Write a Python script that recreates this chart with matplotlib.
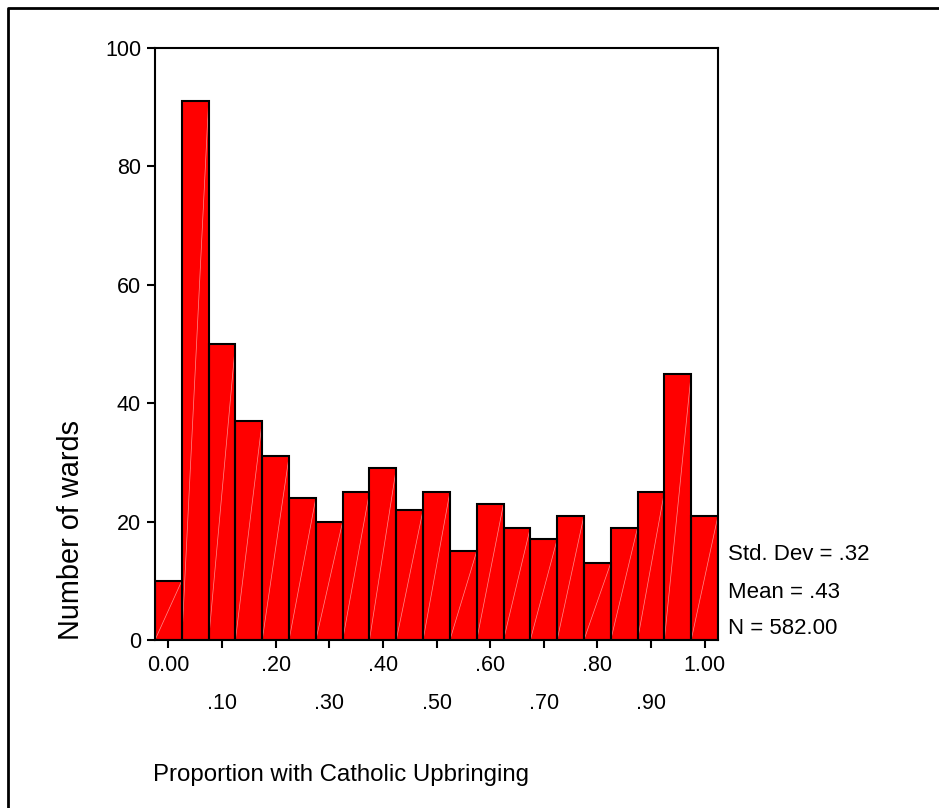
import numpy as np
import matplotlib.pyplot as plt
from matplotlib.lines import Line2D

plt.rcParams['font.family'] = ['Liberation Sans', 'DejaVu Sans']

# Dane histogramu (przedziały o szerokości 0.05)
bin_centers = [0.00, 0.05, 0.10, 0.15, 0.20, 0.25, 0.30, 0.35, 0.40, 0.45, 0.50,
               0.55, 0.60, 0.65, 0.70, 0.75, 0.80, 0.85, 0.90, 0.95, 1.00]
counts = [10, 91, 50, 37, 31, 24, 20, 25, 29, 22, 25,
          15, 23, 19, 17, 21, 13, 19, 25, 45, 21]
bin_width = 0.05

major_ticks = [0.0, 0.2, 0.4, 0.6, 0.8, 1.0]
major_labels = ['0.00', '.20', '.40', '.60', '.80', '1.00']
minor_ticks = [0.1, 0.3, 0.5, 0.7, 0.9]
minor_labels = ['.10', '.30', '.50', '.70', '.90']
y_ticks = [0, 20, 40, 60, 80, 100]

stats = ['Std. Dev = .32', 'Mean = .43', 'N = 582.00']

W, H = 939, 808
fig = plt.figure(figsize=(W / 100, H / 100), dpi=100)
ax = fig.add_axes([155 / W, 1 - 640 / H, 563 / W, 592 / H])

# Wypełnienie słupków
bars = ax.bar(bin_centers, counts, width=bin_width, color='#ff0000',
              linewidth=0, zorder=2)

# Cienkie jasne przekątne w słupkach (jak w oryginale)
for b in bars:
    x0 = b.get_x()
    ax.plot([x0, x0 + b.get_width()], [0, b.get_height()], color='#ff9090',
            linewidth=0.5, zorder=2.5)

# Obramowanie słupków na wierzchu
ax.bar(bin_centers, counts, width=bin_width, fill=False,
       edgecolor='black', linewidth=1.5, zorder=2.8)

ax.set_xlim(-0.025, 1.025)
ax.set_ylim(0, 100)

ax.set_yticks(y_ticks)
ax.set_yticklabels([str(v) for v in y_ticks])
ax.set_xticks(major_ticks)
ax.set_xticklabels(major_labels)
ax.set_xticks(minor_ticks, minor=True)
ax.set_xticklabels(minor_labels, minor=True)

ax.tick_params(axis='both', which='both', direction='out', length=6, width=1.5,
               labelsize=15.5, colors='black')
ax.tick_params(axis='x', which='major', pad=5)
ax.tick_params(axis='x', which='minor', pad=32)
ax.tick_params(axis='y', pad=4)

for s in ax.spines.values():
    s.set_linewidth(1.5)
    s.set_zorder(3)

# Etykiety osi
fig.text(71 / W, 1 - 640 / H, 'Number of wards', rotation=90,
         ha='center', va='bottom', fontsize=20.8)
fig.text(153 / W, 1 - 781 / H, 'Proportion with Catholic Upbringing',
         ha='left', va='baseline', fontsize=17.3)

# Statystyki
for txt, yy in zip(stats, [555, 593, 629]):
    fig.text(728 / W, 1 - yy / H, txt, ha='left', va='center', fontsize=16)

# Ramka zewnętrzna
fig.add_artist(Line2D([8 / W, 8 / W, 1.0], [0.0, 1 - 8 / H, 1 - 8 / H],
                      transform=fig.transFigure, color='black', linewidth=2))

fig.savefig('out.png', dpi=100)
